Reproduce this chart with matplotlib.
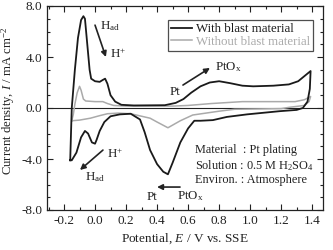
import matplotlib
matplotlib.use("Agg")
import matplotlib.pyplot as plt
from matplotlib.ticker import MultipleLocator

plt.rcParams['font.family'] = ['Liberation Serif', 'DejaVu Serif']
plt.rcParams['mathtext.fontset'] = 'custom'
plt.rcParams['mathtext.rm'] = 'Liberation Serif'
plt.rcParams['mathtext.it'] = 'Liberation Serif:italic'

# With blast material (closed CV loop)
with_E = [-0.16, -0.155, -0.15, -0.13, -0.11, -0.09, -0.075, -0.065, -0.05, -0.035,
          -0.025, 0.0, 0.03, 0.05, 0.065, 0.08, 0.10, 0.13, 0.17, 0.25, 0.45, 0.52,
          0.57, 0.62, 0.68, 0.74, 0.80, 0.87, 0.95, 1.02, 1.15, 1.25, 1.31, 1.35, 1.39,
          1.385, 1.37, 1.34, 1.30, 1.19, 0.98, 0.85, 0.76, 0.68, 0.64, 0.62, 0.60, 0.55,
          0.50, 0.47, 0.44, 0.40, 0.355, 0.32, 0.29, 0.23, 0.16, 0.10, 0.06, 0.03,
          0.01, 0.0, -0.02, -0.045, -0.065, -0.09, -0.12, -0.15, -0.16]
with_I = [-4.1, -2.0, 0.0, 3.0, 5.5, 6.9, 7.2, 7.0, 5.0, 3.0,
          2.3, 2.1, 2.05, 2.2, 2.3, 1.9, 1.0, 0.5, 0.25, 0.2, 0.22, 0.4,
          0.7, 1.2, 1.7, 2.0, 2.1, 1.95, 1.75, 1.7, 1.75, 1.85, 2.1, 2.5, 2.9,
          1.5, 0.5, 0.0, -0.15, -0.25, -0.5, -0.7, -0.95, -1.0, -1.0, -1.3, -1.6, -2.7,
          -4.3, -5.2, -5.0, -4.4, -3.3, -1.9, -0.9, -0.45, -0.5, -0.65, -1.1, -1.8,
          -2.5, -2.8, -2.7, -2.0, -1.8, -2.3, -3.5, -4.1, -4.1]

# Without blast material (closed CV loop)
without_E = [-0.15, -0.14, -0.13, -0.115, -0.10, -0.09, -0.075, -0.06, 0.0, 0.05, 0.08,
             0.12, 0.20, 0.50, 0.60, 0.75, 0.95, 1.29, 1.35, 1.39, 1.38, 1.35, 1.25,
             1.20, 0.90, 0.80, 0.63, 0.55, 0.47, 0.40, 0.355, 0.23, 0.15, 0.08, 0.03,
             -0.03, -0.10, -0.15]
without_I = [-1.0, -0.5, 0.3, 1.2, 1.7, 1.4, 0.7, 0.55, 0.5, 0.5, 0.35,
             0.2, 0.15, 0.15, 0.2, 0.35, 0.5, 0.5, 0.65, 0.9, 0.5, 0.2, 0.05,
             -0.05, -0.1, -0.25, -0.55, -1.0, -1.55, -1.1, -0.8, -0.45, -0.4, -0.45, -0.6,
             -0.8, -0.95, -1.0]

x_ticks = [-0.2, 0.0, 0.2, 0.4, 0.6, 0.8, 1.0, 1.2, 1.4]
y_ticks = [-8.0, -4.0, 0.0, 4.0, 8.0]

fig = plt.figure(figsize=(3.33, 2.5), dpi=100)
ax = fig.add_axes([0.141, 0.16, 0.829, 0.816])

ax.axhline(0, color='#222222', lw=0.8, zorder=1)
ax.plot(without_E, without_I, color='#aaaaaa', lw=1.1, label='Without blast material', zorder=2)
ax.plot(with_E, with_I, color='#1a1a1a', lw=1.3, label='With blast material', zorder=3)

ax.set_xlim(-0.31, 1.47)
ax.set_ylim(-8.0, 8.0)
ax.set_xticks(x_ticks)
ax.set_xticklabels([f"{v:.1f}" for v in x_ticks])
ax.set_yticks(y_ticks)
ax.set_yticklabels([f"{v:.1f}" for v in y_ticks])
ax.xaxis.set_minor_locator(MultipleLocator(0.1))
ax.yaxis.set_minor_locator(MultipleLocator(1.0))
ax.tick_params(which='both', direction='in', top=True, right=True, labelsize=9.5, width=0.8, colors='#222222')
ax.tick_params(which='major', length=4)
ax.tick_params(which='minor', length=2.5)
for s in ax.spines.values():
    s.set_linewidth(0.9)
    s.set_color('#222222')

ax.set_xlabel(r'Potential, $\mathit{E}$ / V vs. SSE', fontsize=9.5, color='#222222', labelpad=3)
ax.set_ylabel(r'Current density, $\mathit{I}$ / mA cm$^{-2}$', fontsize=9.2, color='#222222')
ax.yaxis.set_label_coords(-0.11, 0.535)

handles, labels = ax.get_legend_handles_labels()
leg = ax.legend(handles[::-1], labels[::-1], loc='upper right', bbox_to_anchor=(0.964, 0.932),
                fontsize=9.3, frameon=True, fancybox=False, edgecolor='#222222',
                handlelength=1.6, handletextpad=0.3, borderpad=0.25, labelspacing=0.05,
                labelcolor='linecolor', borderaxespad=0)
leg.get_frame().set_linewidth(0.9)

fs = 9.3
c = '#222222'
ap = dict(arrowstyle='-|>', color=c, lw=1.2, mutation_scale=8, shrinkA=0, shrinkB=0)
ax.text(0.035, 6.2, r'H$_{\rm ad}$', fontsize=fs, color=c)
ax.annotate('', xy=(0.07, 4.0), xytext=(0.0, 6.5), arrowprops=ap)
ax.text(0.096, 3.9, r'H$^{+}$', fontsize=fs, color=c)

ax.text(0.483, 1.0, 'Pt', fontsize=fs, color=c)
ax.annotate('', xy=(0.741, 3.14), xytext=(0.567, 1.8), arrowprops=ap)
ax.text(0.773, 2.98, r'PtO$_{\rm x}$', fontsize=fs, color=c)

ax.text(0.077, -3.92, r'H$^{+}$', fontsize=fs, color=c)
ax.annotate('', xy=(-0.097, -4.86), xytext=(0.051, -3.3), arrowprops=ap)
ax.text(-0.065, -5.65, r'H$_{\rm ad}$', fontsize=fs, color=c)

ax.annotate('', xy=(0.40, -6.2), xytext=(0.548, -6.2), arrowprops=ap)
ax.text(0.335, -7.2, 'Pt', fontsize=fs, color=c)
ax.text(0.528, -7.13, r'PtO$_{\rm x}$', fontsize=fs, color=c)

fb = 8.8
ax.text(0.645, -3.53, 'Material  : Pt plating', fontsize=fb, color=c)
ax.text(0.645, -4.78, r'Solution : 0.5 M H$_2$SO$_4$', fontsize=fb, color=c)
ax.text(0.645, -5.88, 'Environ. : Atmosphere', fontsize=fb, color=c)

fig.savefig('out.png', dpi=100)
